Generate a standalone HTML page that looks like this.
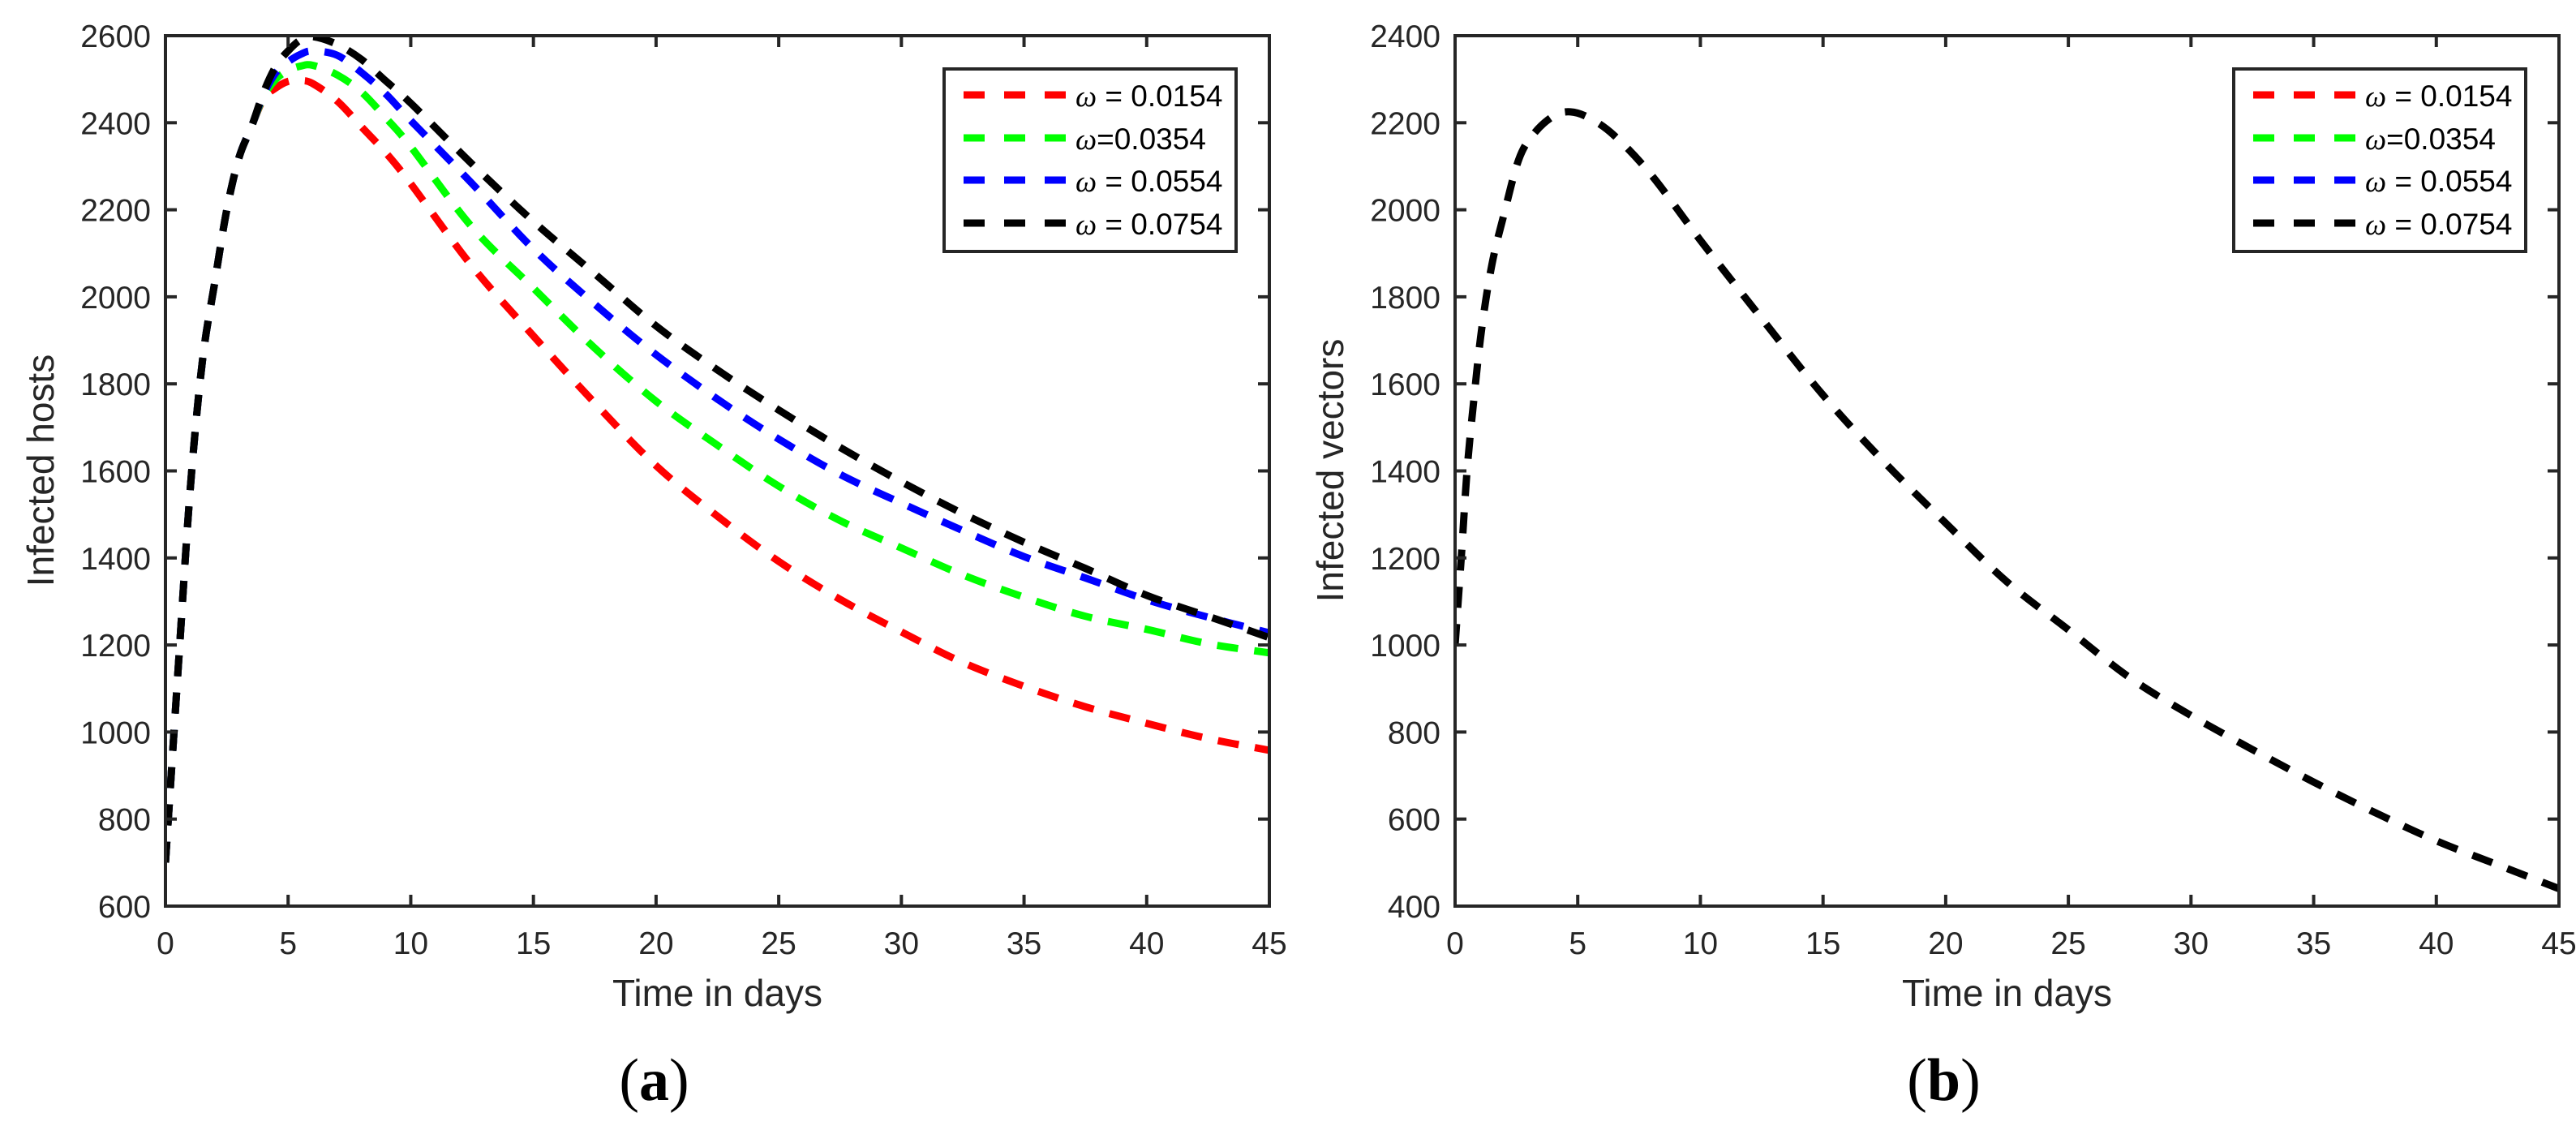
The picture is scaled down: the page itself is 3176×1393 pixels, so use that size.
<!DOCTYPE html>
<html><head><meta charset="utf-8"><style>
html,body{margin:0;padding:0;background:#fff;}
svg{display:block;}
text{font-family:"Liberation Sans",sans-serif;}
</style></head><body>
<svg id="fig" width="3176" height="1393" viewBox="0 0 3176 1393" xmlns="http://www.w3.org/2000/svg">
<rect width="3176" height="1393" fill="#fff"/>
<g id="panelA"></g>
<g id="panelB"></g>
</svg>
<script>
// ----- data -----
const xTicks = [0,5,10,15,20,25,30,35,40,45];
const yTicksA = [600,800,1000,1200,1400,1600,1800,2000,2200,2400,2600];
const yTicksB = [400,600,800,1000,1200,1400,1600,1800,2000,2200,2400];
const tA = [0,0.5,1,1.5,2,2.5,3,3.5,4,4.5,5,5.5,6,7,8,9,10,12.5,15,17.5,20,22.5,25,27.5,30,32.5,35,37.5,40,42.5,45];
const redA   = [700,1130,1550,1850,2030,2200,2320,2390,2455,2480,2495,2497,2490,2450,2390,2330,2260,2070,1910,1756,1612,1496,1392,1305,1230,1160,1105,1058,1020,985,958];
const greenA = [700,1130,1550,1850,2030,2200,2320,2390,2460,2500,2520,2530,2532,2510,2470,2410,2345,2160,2020,1882,1760,1659,1565,1486,1423,1361,1310,1266,1236,1203,1182];
const blueA  = [700,1130,1550,1850,2030,2200,2320,2390,2465,2515,2540,2557,2565,2555,2515,2465,2405,2260,2110,1983,1867,1765,1673,1592,1526,1463,1403,1354,1304,1264,1228];
const blackA = [700,1130,1550,1850,2030,2200,2320,2390,2470,2530,2565,2590,2598,2580,2545,2495,2445,2305,2173,2053,1933,1832,1740,1654,1575,1502,1436,1376,1314,1266,1217];
const tB = [0,0.25,0.5,0.8,1.1,1.5,2,2.6,3.2,4,4.7,5.5,6.5,8,10,12.5,15,17.5,20,22.5,25,27.5,30,32.5,35,37.5,40,42.5,45];
const blackB = [1000,1200,1408,1583,1733,1874,1991,2116,2174,2215,2225,2210,2170,2080,1930,1750,1574,1420,1280,1145,1035,925,838,760,685,615,550,495,440];
const legendLabels = ["0.0154","0.0354","0.0554","0.0754"];
const legendSep = [" = ","=", " = ", " = "];
const colors = ["#ff0000","#00ff00","#0000ff","#000000"];

const NS = "http://www.w3.org/2000/svg";
function mk(tag, attrs, parent){const e=document.createElementNS(NS,tag);for(const k in attrs)e.setAttribute(k,attrs[k]);parent.appendChild(e);return e;}

function smoothPath(pts){
  let d="M"+pts[0][0].toFixed(1)+","+pts[0][1].toFixed(1);
  for(let i=0;i<pts.length-1;i++){
    const p0=pts[Math.max(0,i-1)],p1=pts[i],p2=pts[i+1],p3=pts[Math.min(pts.length-1,i+2)];
    const c1=[p1[0]+(p2[0]-p0[0])/6,p1[1]+(p2[1]-p0[1])/6];
    const c2=[p2[0]-(p3[0]-p1[0])/6,p2[1]-(p3[1]-p1[1])/6];
    d+=" C"+c1[0].toFixed(1)+","+c1[1].toFixed(1)+" "+c2[0].toFixed(1)+","+c2[1].toFixed(1)+" "+p2[0].toFixed(1)+","+p2[1].toFixed(1);
  }
  return d;
}

function panel(g, x0, x1, yTop, yBot, ymin, ymax, yTicks, ylabel, series, caption){
  const sx=t=>x0+(t-0)/(45-0)*(x1-x0);
  const sy=v=>yBot-(v-ymin)/(ymax-ymin)*(yBot-yTop);
  const clip=mk("clipPath",{id:"clip"+caption},g);
  mk("rect",{x:x0,y:yTop,width:x1-x0,height:yBot-yTop},clip);
  series.forEach(s=>{
    const pts=s.t.map((t,i)=>[sx(t),sy(s.v[i])]);
    const p=mk("path",{d:smoothPath(pts),fill:"none",stroke:s.c,"stroke-width":9,"stroke-dasharray":"26 20","clip-path":"url(#clip"+caption+")"},g);
    
    
  });
  const ax="#262626";
  xTicks.forEach(t=>{
    const x=sx(t);
    mk("line",{x1:x,x2:x,y1:yBot,y2:yBot-14,stroke:ax,"stroke-width":4},g);
    mk("line",{x1:x,x2:x,y1:yTop,y2:yTop+14,stroke:ax,"stroke-width":4},g);
    const tx=mk("text",{x:x,y:1176,"font-size":39,"text-anchor":"middle",fill:ax},g);
    tx.textContent=t;
    
    
  });
  yTicks.forEach(v=>{
    const y=sy(v);
    mk("line",{x1:x0,x2:x0+14,y1:y,y2:y,stroke:ax,"stroke-width":4},g);
    mk("line",{x1:x1,x2:x1-14,y1:y,y2:y,stroke:ax,"stroke-width":4},g);
    const tx=mk("text",{x:x0-18,y:y+14,"font-size":39,"text-anchor":"end",fill:ax},g);
    tx.textContent=v;
    
    
  });
  const box=mk("rect",{x:x0,y:yTop,width:x1-x0,height:yBot-yTop,fill:"none",stroke:ax,"stroke-width":4},g);
  
  
  const xl=mk("text",{x:(x0+x1)/2,y:1240,"font-size":46,"text-anchor":"middle",fill:ax},g);
  xl.textContent="Time in days";
  
  
  const ylx = x0-138;
  const yl=mk("text",{x:ylx,y:580,"font-size":46,"text-anchor":"middle",fill:ax,transform:"rotate(-90 "+ylx+" 580)"},g);
  yl.textContent=ylabel;
  
  
  const lx=x1-401, ly=85;
  const lg=mk("g",{},g);
  
  
  mk("rect",{x:lx,y:ly,width:360,height:225,fill:"#fff",stroke:ax,"stroke-width":4},lg);
  const rows=[117,170,222,275];
  legendLabels.forEach((lab,i)=>{
    const e=mk("g",{},lg);
    
    
    mk("line",{x1:lx+24,x2:lx+152,y1:ly+rows[i]-85,y2:ly+rows[i]-85,stroke:colors[i],"stroke-width":9,"stroke-dasharray":"26 24"},e);
    const t=mk("text",{x:lx+162,y:ly+rows[i]-85+14,"font-size":37,fill:"#000"},e);
    const w=mk("tspan",{style:"font-family:'Liberation Serif',serif;font-style:italic"},t);
    w.textContent="ω";
    const r=mk("tspan",{},t);
    r.textContent=legendSep[i]+lab;
  });
  const cap=mk("text",{x:(x0+x1)/2-78,y:1356,"text-anchor":"middle",fill:"#000",style:"font-family:'Liberation Serif',serif;font-size:74px"},g);
  
  
  const o=mk("tspan",{},cap);o.textContent="(";
  const b=mk("tspan",{"font-weight":"bold"},cap);b.textContent=caption;
  const c=mk("tspan",{},cap);c.textContent=")";
}

panel(document.getElementById("panelA"),204,1565,44,1117,600,2600,yTicksA,"Infected  hosts",[
  {t:tA,v:redA,c:colors[0],name:"series-omega-0154"},
  {t:tA,v:greenA,c:colors[1],name:"series-omega-0354"},
  {t:tA,v:blueA,c:colors[2],name:"series-omega-0554"},
  {t:tA,v:blackA,c:colors[3],name:"series-omega-0754"}],"a");
panel(document.getElementById("panelB"),1794,3155,44,1117,400,2400,yTicksB,"Infected vectors",[
  {t:tB,v:blackB,c:colors[3],name:"series-vectors"}],"b");
</script>
</body></html>
